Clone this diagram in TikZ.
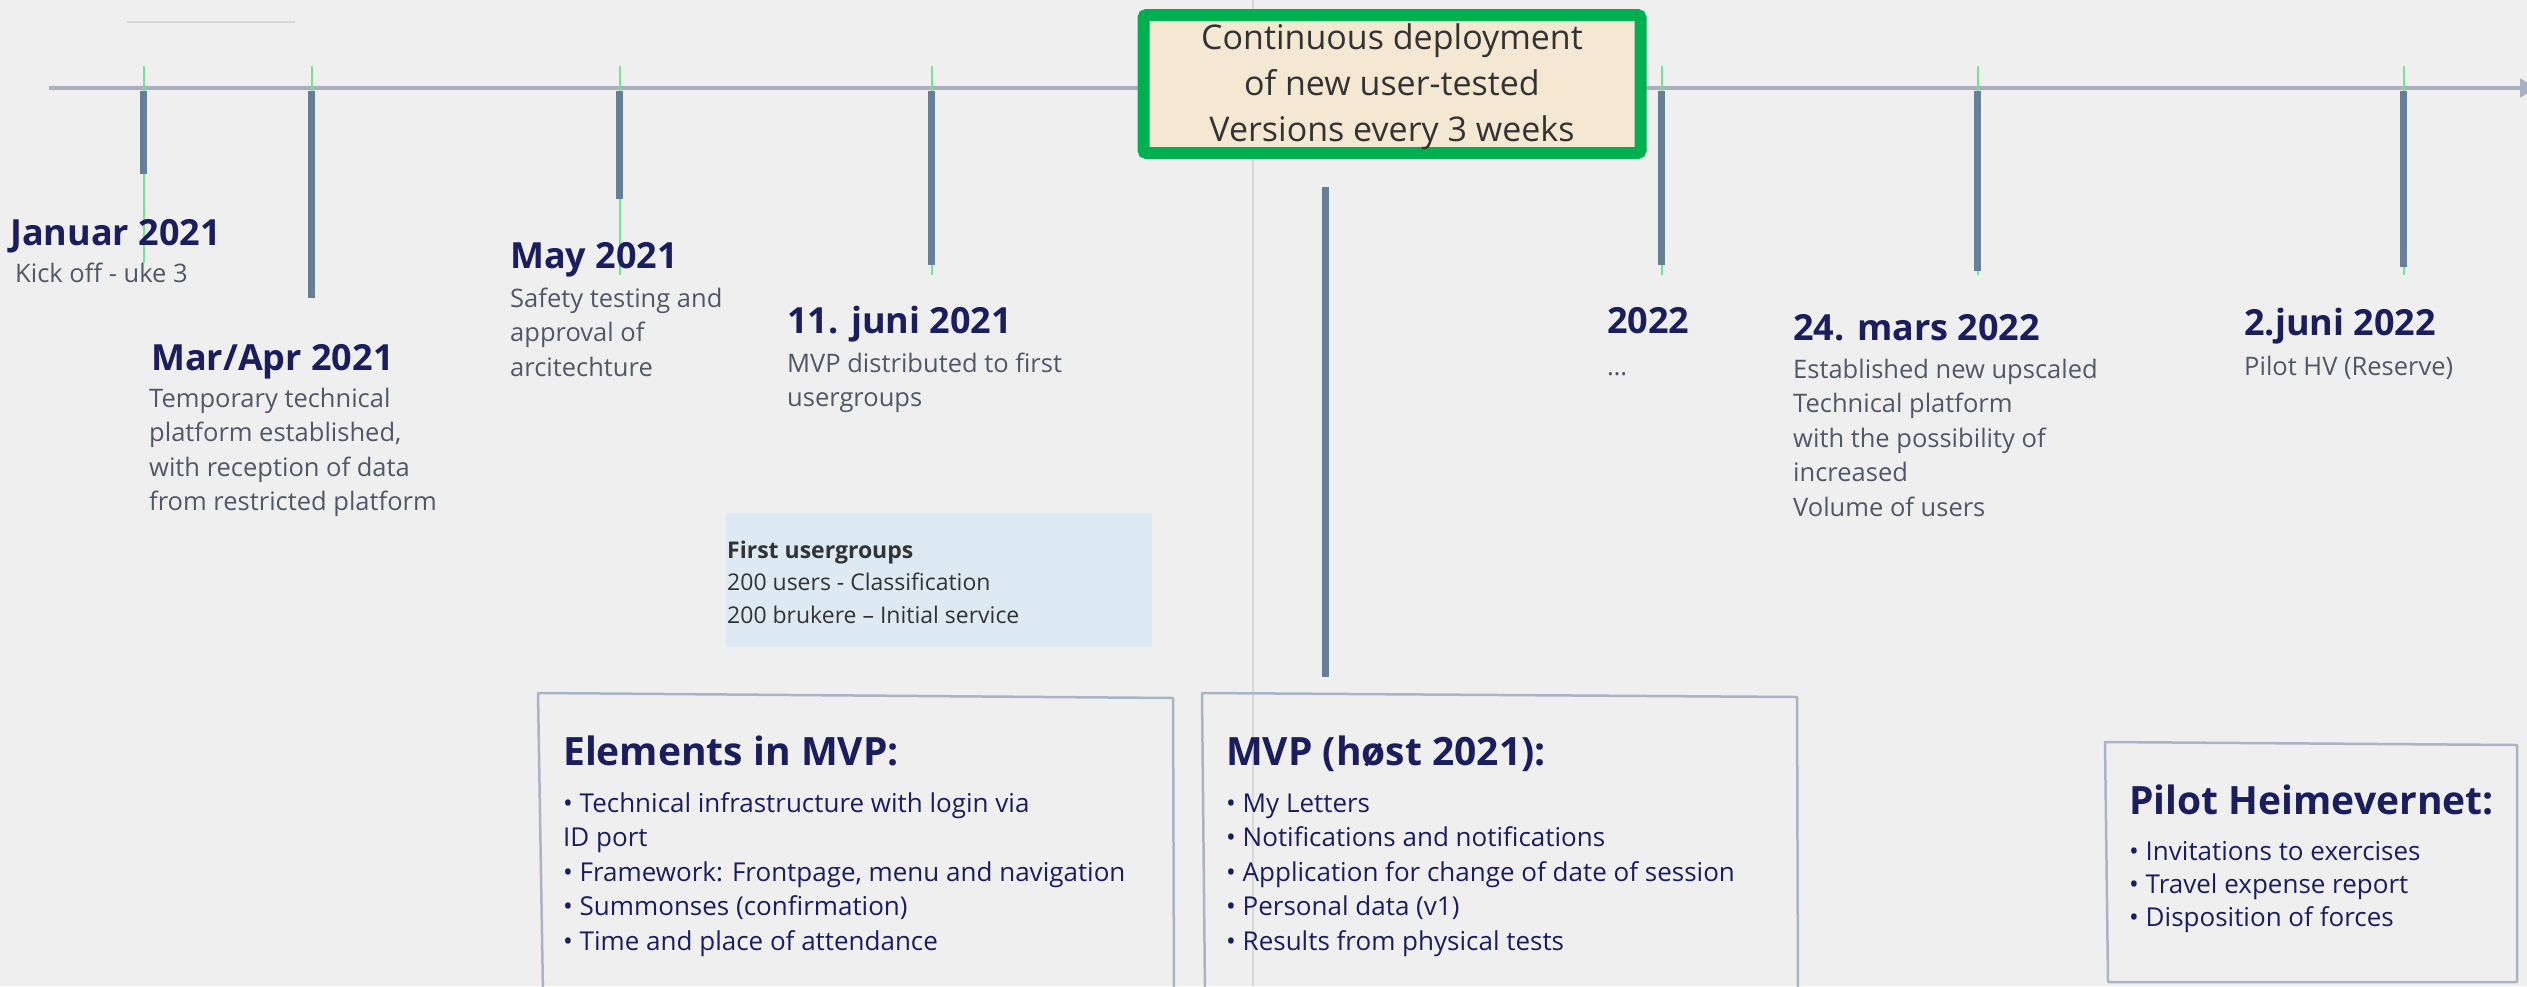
\documentclass[tikz,border=0pt]{standalone}
\usepackage{fontspec}
\setmainfont{Open Sans}
\usetikzlibrary{arrows.meta}
\definecolor{bg}{HTML}{EFEFEF}
\definecolor{navy}{HTML}{1A1E5C}
\definecolor{graytxt}{HTML}{505868}
\definecolor{axisc}{HTML}{A8B0BF}
\definecolor{barc}{HTML}{667F96}
\definecolor{tickg}{HTML}{74E396}
\definecolor{boxline}{HTML}{AAB3C7}
\definecolor{greenb}{HTML}{00B050}
\definecolor{beige}{HTML}{F5E8D2}
\definecolor{lblue}{HTML}{DDE9F3}
\definecolor{darktxt}{HTML}{333333}
\definecolor{vline}{HTML}{D8D8D8}
\begin{document}
\begin{tikzpicture}[x=1pt,y=-1pt,
  hdr/.style={anchor=base west, inner sep=0, text=navy, font=\fontsize{36}{40}\selectfont\bfseries},
  desc/.style={anchor=base west, inner sep=0, text=graytxt, align=left, font=\fontsize{25.5}{34.5}\selectfont},
  boxtitle/.style={anchor=base west, inner sep=0, text=navy, font=\fontsize{39}{44}\selectfont\bfseries},
  bullets/.style={anchor=base west, inner sep=0, text=navy, align=left, font=\fontsize{26}{34.5}\selectfont},
  outline/.style={draw=boxline, line width=2.5pt, line join=round},
  tickline/.style={draw=tickg, line width=1.5pt},
  barline/.style={draw=barc, line width=7pt},
]
\useasboundingbox (0,0) rectangle (2527,986);
\clip (0,0) rectangle (2527,986);
\fill[bg] (0,0) rectangle (2527,986);

% faint guide lines
\draw[vline, line width=1.5pt] (1253,0) -- (1253,986);
\draw[vline, line width=2pt] (127,22) -- (295,22);

% timeline axis
\coordinate (axS) at (49,88);
\coordinate (axE) at (2538,88);
\draw[axisc, line width=3.5pt, -{Triangle[length=18pt,width=18pt]}] (axS) -- (axE);

% ticks and bars
\foreach \x/\yb/\yg in {143/174/263, 311/298/290, 619/199/275, 931/265/275, 1661/265/275, 1977/271/275, 2403/267/275}{
  \draw[tickline] (\x+1,66) -- (\x+1,\yg);
  \draw[barline] (\x,91) -- (\x,\yb);
}
\draw[barline] (1325,187) -- (1325,677);

% continuous deployment box
\node[draw=greenb, line width=12pt, fill=beige, rounded corners=3pt,
      minimum width=497pt, minimum height=138pt, inner sep=0] (cd) at (1392,84) {};
\node[align=center, inner sep=0, text=darktxt, font=\fontsize{34}{46}\selectfont] (cdT) at (1392,87)
  {Continuous deployment\\of new user-tested\\Versions every 3 weeks};

% milestone labels (multi-line nodes are anchored at the baseline of their last line)
\node[hdr] (jan) at (10,245) {Januar 2021};
\node[desc] (janD) at (15,282) {Kick off - uke 3};
\node[hdr] (mar) at (151,370) {Mar/Apr 2021};
\node[desc] (marD) at (149,510.5) {Temporary technical\\platform established,\\with reception of data\\from restricted platform};
\node[hdr] (may) at (510,268) {May 2021};
\node[desc] (mayD) at (510,376) {Safety testing and\\approval of\\arcitechture};
\node[hdr] (jun) at (787,333) {11. juni 2021};
\node[desc] (junD) at (787,406.5) {MVP distributed to first\\usergroups};
\node[hdr] (y22) at (1607,333) {2022};
\node[desc] (y22D) at (1607,375) {…};
\node[hdr] (mars) at (1793,340) {24. mars 2022};
\node[desc] (marsD) at (1793,516) {Established new upscaled\\Technical platform\\with the possibility of\\increased\\Volume of users};
\node[hdr] (jun22) at (2244,335) {2.juni 2022};
\node[desc] (jun22D) at (2244,375) {Pilot HV (Reserve)};

% first usergroups
\node[fill=lblue, minimum width=426pt, minimum height=134pt, inner sep=0, anchor=north west] (ugbox) at (726,513) {};
\node[anchor=base west, inner sep=0, text=darktxt, align=left, font=\fontsize{23}{32.5}\selectfont] (ugtext) at (727,623)
  {\textbf{First usergroups}\\200 users - Classification\\200 brukere – Initial service};

% lower boxes
\draw[outline] (543,995) -- (538,693) -- (1173,698) -- (1174,995);
\node[boxtitle] (elT) at (563,765) {Elements in MVP:};
\node[bullets] (elB) at (563,950) {• Technical infrastructure with login via\\ID port\\• Framework: Frontpage, menu and navigation\\• Summonses (confirmation)\\• Time and place of attendance};

\draw[outline] (1205,995) -- (1202,693) -- (1797,697) -- (1798,995);
\node[boxtitle] (mvpT) at (1226,765) {MVP (høst 2021):};
\node[bullets] (mvpB) at (1226,950) {• My Letters\\• Notifications and notifications\\• Application for change of date of session\\• Personal data (v1)\\• Results from physical tests};

\draw[outline] (2108,982) -- (2105,742) -- (2517,745) -- (2517,982) -- cycle;
\node[boxtitle] (hvT) at (2129,814) {Pilot Heimevernet:};
\node[bullets, font=\fontsize{26}{33}\selectfont] (hvB) at (2129,926) {• Invitations to exercises\\• Travel expense report\\• Disposition of forces};
\end{tikzpicture}
\end{document}
